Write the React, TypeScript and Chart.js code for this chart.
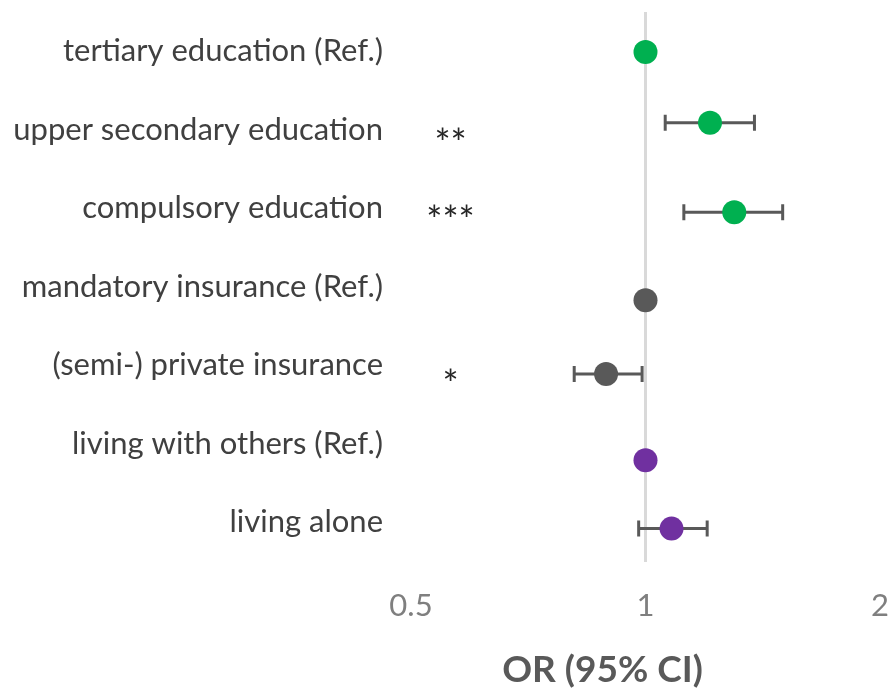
import { useEffect, useRef } from "react";
import { Chart, registerables } from "chart.js";

Chart.register(...registerables);

const rowLabels = [
  "tertiary education (Ref.)",
  "upper secondary education",
  "compulsory education",
  "mandatory insurance (Ref.)",
  "(semi-) private insurance",
  "living with others (Ref.)",
  "living alone",
];
const rowPositions = [0.51, 1.41, 2.55, 3.67, 4.61, 5.71, 6.58];
const oddsRatios = [1, 1.21, 1.3, 1, 0.89, 1, 1.08];
const ciLower: (number | null)[] = [null, 1.06, 1.12, null, 0.81, null, 0.98];
const ciUpper: (number | null)[] = [null, 1.38, 1.5, null, 0.99, null, 1.2];
const pointColors = ["#00B050", "#00B050", "#00B050", "#595959", "#595959", "#7030A0", "#7030A0"];
const significance = ["", "**", "***", "", "*", "", ""];
const significanceRows = [0, 1.57, 2.55, 0, 4.65, 0, 0];
const significanceX = 0.562;
const xTicks = [0.5, 1, 2];
const axisTitle = "OR (95% CI)";

const FONT = "Lato, 'Open Sans', sans-serif";
const SIG_SIZE = 38;

const sigPlugin = {
  id: "sigPlugin",
  afterLayout(chart: any) {
    // let the row labels use the full width to the left of the axis
    const y = chart.scales.y;
    if (y) y.left = 0;
  },
  afterDatasetsDraw(chart: any) {
    const { ctx, scales } = chart;
    ctx.save();
    ctx.font = `${SIG_SIZE}px ${FONT}`;
    ctx.fillStyle = "#262626";
    ctx.textAlign = "center";
    ctx.textBaseline = "middle";
    significance.forEach((s, i) => {
      if (!s) return;
      const x = scales.x.getPixelForValue(significanceX);
      const y = scales.y.getPixelForValue(significanceRows[i]);
      ctx.fillText(s, x, y + SIG_SIZE * 0.24);
    });
    ctx.restore();
  },
};

export default function App() {
  const ref = useRef<HTMLCanvasElement | null>(null);
  useEffect(() => {
    if (!ref.current) return;
    const ciDatasets = rowLabels
      .map((_, i) => i)
      .filter((i) => ciLower[i] !== null && ciUpper[i] !== null)
      .map((i) => ({
        type: "scatter" as const,
        data: [
          { x: ciLower[i] as number, y: rowPositions[i] },
          { x: ciUpper[i] as number, y: rowPositions[i] },
        ],
        showLine: true,
        borderColor: "#595959",
        borderWidth: 3,
        pointStyle: "line" as const,
        rotation: 90,
        pointRadius: 8,
        pointHoverRadius: 8,
        pointBorderWidth: 3,
        pointBorderColor: "#595959",
        order: 2,
      }));
    const chart = new Chart(ref.current, {
      type: "scatter",
      data: {
        datasets: [
          {
            data: oddsRatios.map((v, i) => ({ x: v, y: rowPositions[i] })),
            pointBackgroundColor: pointColors,
            pointBorderWidth: 0,
            pointRadius: 12,
            pointHoverRadius: 12,
            order: 0,
          },
          ...ciDatasets,
        ] as any,
      },
      options: {
        responsive: false,
        animation: false,
        layout: { padding: { left: 320, top: 10, right: 7, bottom: 0 } },
        plugins: {
          legend: { display: false },
          tooltip: { enabled: false },
          title: {
            display: true,
            text: axisTitle,
            position: "bottom",
            color: "#595959",
            font: { family: FONT, size: 37, weight: "bold" },
            padding: { top: 28, bottom: 0 },
          },
        },
        scales: {
          x: {
            type: "logarithmic",
            min: 0.5,
            max: 2,
            afterBuildTicks: (scale: any) => {
              scale.ticks = xTicks.map((v) => ({ value: v }));
            },
            afterFit: (scale: any) => {
              scale.height = 58;
              scale.paddingLeft = 0;
              scale.paddingRight = 9;
            },
            ticks: {
              callback: (v: any) => String(v),
              color: "#7F7F7F",
              font: { family: FONT, size: 31 },
              padding: 26,
              maxRotation: 0,
              autoSkip: false,
            },
            grid: {
              drawTicks: false,
              lineWidth: 3,
              color: (ctx: any) => (ctx.tick && ctx.tick.value === 1 ? "#D9D9D9" : "rgba(0,0,0,0)"),
            },
            border: { display: false },
          },
          y: {
            type: "linear",
            reverse: true,
            min: 0,
            max: 7,
            afterBuildTicks: (scale: any) => {
              scale.ticks = rowLabels.map((_, i) => ({ value: i + 0.5 }));
            },
            afterFit: (scale: any) => {
              scale.width = 91;
              scale.paddingTop = 0;
              scale.paddingBottom = 0;
            },
            ticks: {
              callback: (_v: any, i: number) => rowLabels[i],
              color: "#404040",
              font: { family: FONT, size: 31 },
              padding: 28,
              autoSkip: false,
            },
            grid: { display: false, drawTicks: false },
            border: { display: false },
          },
        },
      } as any,
      plugins: [sigPlugin],
    });
    return () => chart.destroy();
  }, []);
  return (
    <div style={{ position: "fixed", left: 0, top: 0, width: 892, height: 692, background: "#fff" }}>
      <canvas ref={ref} width={892} height={692} />
    </div>
  );
}
